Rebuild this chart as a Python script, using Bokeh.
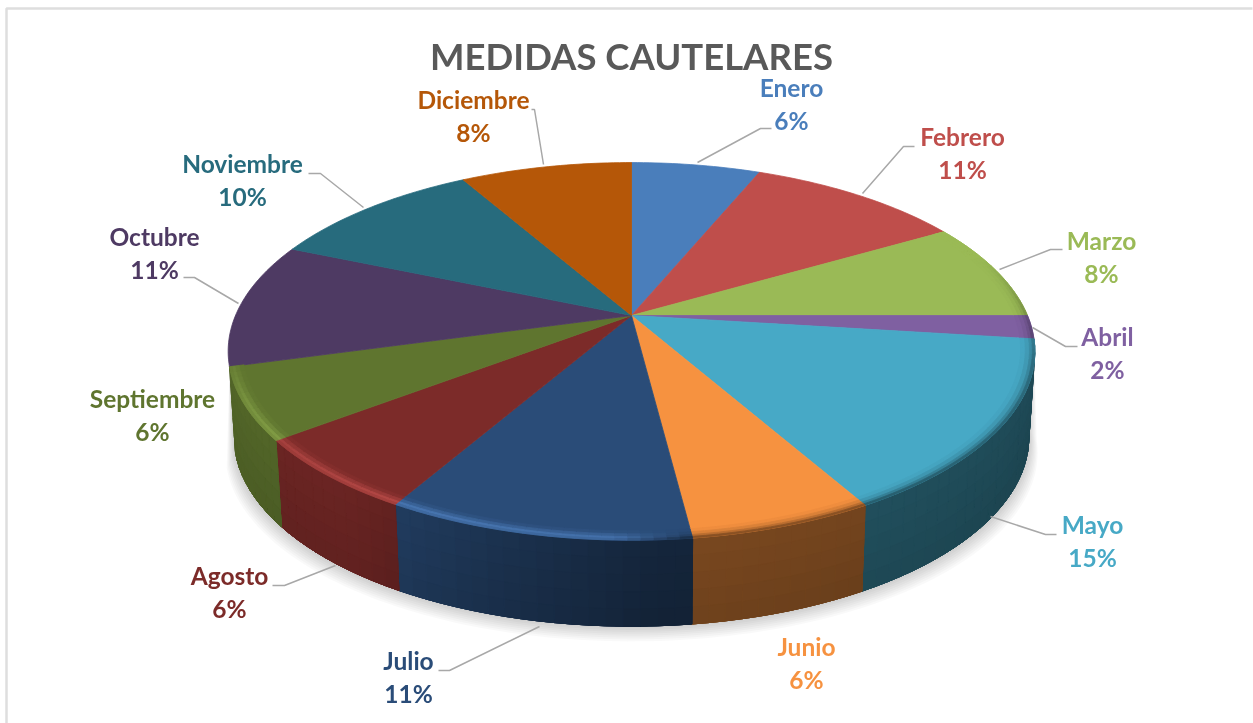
import numpy as np
from bokeh.embed import file_html
from bokeh.resources import INLINE
from bokeh.plotting import figure
from bokeh.models import Range1d, ColumnDataSource
from bokeh.core.properties import value

title_text = "MEDIDAS CAUTELARES"
months = ["Enero", "Febrero", "Marzo", "Abril", "Mayo", "Junio", "Julio", "Agosto",
          "Septiembre", "Octubre", "Noviembre", "Diciembre"]
percent_labels = [6, 11, 8, 2, 15, 6, 11, 6, 6, 11, 10, 8]
shares = [6.2, 10.4, 8.4, 2.0, 14.8, 6.2, 10.3, 6.3, 6.1, 10.7, 10.35, 8.25]
colors = ["#4a7ebb", "#bf4e4b", "#9aba56", "#7f60a1", "#47a9c6", "#f69240",
          "#2a4c78", "#7c2b29", "#5f752f", "#4e3a63", "#276b7d", "#b55708"]

# layout (page pixels)
label_x = [791, 962, 1101, 1107, 1092, 806, 408, 229, 152, 154, 242, 473]
label_y = [87, 136, 240, 336, 524, 646, 660, 575, 398, 236, 163, 99]
leaders = [[(697, 162), (760, 128), (771, 128)], [(862, 193), (903, 146), (914, 146)],
           [(999, 269), (1050, 249), (1062, 249)], [(1032, 327), (1065, 346), (1077, 346)],
           [(990, 516), (1045, 534), (1056, 534)], None,
           [(539, 626), (449, 670), (438, 670)], [(335, 565), (284, 585), (272, 585)], None,
           [(238, 303), (194, 277), (183, 277)], [(363, 207), (320, 173), (308, 173)],
           [(543, 164), (534, 109), (531, 109)]]
CX, CY, A, B, K = 631.0, 315.0, 396.0, 182.0, 0.19
WALL, XS = 86.0, 0.985


def top(th, r=1.0):
    u, v = r * np.sin(th), -r * np.cos(th)
    w = 1 - K * v
    return CX + A * u / w, CY + B * v / w


def wall(th, t):
    x, y = top(th)
    return CX + (x - CX) * (1 - (1 - XS) * t), y + WALL * t


def shade(col, f):
    rgb = [int(col[i:i + 2], 16) for i in (1, 3, 5)]
    if f <= 1:
        out = [c * f for c in rgb]
    else:
        out = [c * f + 45 * (f - 1) for c in rgb]
    return "#%02x%02x%02x" % tuple(int(min(255, max(0, c))) for c in out)


p = figure(width=1253, height=723, x_range=Range1d(0, 1253), y_range=Range1d(723, 0),
           output_backend="svg", toolbar_location=None, min_border=0,
           outline_line_color=None, background_fill_color="white")
p.axis.visible = False
p.grid.visible = False
p.styles = {"position": "fixed", "left": "0", "top": "0"}

# chart frame
p.line([1252, 6, 6], [8, 8, 723], line_color="#dedede", line_width=2.5)

edges = np.cumsum([0.0] + shares) / sum(shares) * 2 * np.pi
W0, W1 = edges[4], edges[9]  # the side wall runs from Mayo to the end of Septiembre

# soft shadow below the disc
fr = np.linspace(W0, W1, 120)
for k in range(1, 9):
    bx, by = wall(fr, 1.0)
    sx = CX + (bx - CX) * (1 + 0.0028 * k)
    sy = by + 1.9 * k
    tx, ty = top(fr)
    p.patch(np.r_[sx, tx[::-1]].tolist(), np.r_[sy, ty[::-1]].tolist(),
            fill_color="#000000", fill_alpha=0.022, line_color=None)

xs, ys, fc = [], [], []


def quad(x, y, c):
    xs.append(list(x))
    ys.append(list(y))
    fc.append(c)


def wall_factor(am):
    return float(np.interp(np.sin(am), [-1, -.6, -.3, .05, 1], [.88, .86, .68, .50, .44]))


# side wall: one solid piece per slice, then vertical bands with a top-to-bottom ramp
WT = np.linspace(0, 1, 6)
for i in range(4, 9):
    a0, a1 = edges[i], edges[i + 1]
    n = max(2, int((a1 - a0) / np.radians(2.0)))
    ang = np.linspace(a0, a1, n + 1)
    x0, y0 = wall(ang, 0.0)
    x1, y1 = wall(ang, 1.0)
    quad(np.r_[x0, x1[::-1]], np.r_[y0, y1[::-1]],
         shade(colors[i], wall_factor((a0 + a1) / 2) * 0.94))
    for j in range(n):
        am = (ang[j] + ang[j + 1]) / 2
        f0 = wall_factor(am)
        # each band is painted down to the bottom edge, so that rows overlap
        for k in range(len(WT) - 1):
            t0, tm = WT[k], (WT[k] + WT[k + 1]) / 2
            xa, ya = wall(ang[j], t0); xb, yb = wall(ang[j + 1], t0)
            xc, yc = wall(ang[j + 1], 1.0); xd, yd = wall(ang[j], 1.0)
            quad([xa, xb, xc, xd], [ya, yb, yc, yd], shade(colors[i], f0 * (1 - 0.09 * tm)))

# top face
for i in range(12):
    n = max(2, int((edges[i + 1] - edges[i]) / np.radians(1.0)))
    ang = np.linspace(edges[i], edges[i + 1], n + 1)
    x, y = top(ang)
    quad(np.r_[CX, x], np.r_[CY, y], colors[i])

# bevel along the rim of the top face, from the outer edge of Marzo round to Septiembre
RT = [0.966, 0.977, 0.987, 0.994, 1.0]
for i in range(2, 9):
    a0, a1 = edges[i], edges[i + 1]
    n = max(2, int((a1 - a0) / np.radians(1.5)))
    ang = np.linspace(a0, a1, n + 1)
    for j in range(n):
        am = (ang[j] + ang[j + 1]) / 2
        hl = float(np.interp(am, np.radians([172, 182, 205, 225, 245, 262]), [0, .3, .34, .28, .18, 0]))
        dk = float(np.interp(am, np.radians([70, 105, 150, 172, 182]), [0, .45, .55, .55, 0]))
        for k in range(4):
            x0, y0 = top(ang[j], RT[k]); x1, y1 = top(ang[j + 1], RT[k])
            x2, y2 = top(ang[j + 1], RT[k + 1]); x3, y3 = top(ang[j], RT[k + 1])
            c = colors[i]
            if hl > 0:
                c = shade(c, 1 + hl * [0.15, 0.55, 1.0, 0.75][k])
            if dk > 0:
                c = shade(c, 1 - dk * [0.05, 0.2, 0.45, 0.8][k])
            quad([x0, x1, x2, x3], [y0, y1, y2, y3], c)

src = ColumnDataSource(dict(xs=xs, ys=ys, fc=fc))
p.patches("xs", "ys", source=src, fill_color="fc", line_color="fc", line_width=0.8)

# leader lines
for seg in leaders:
    if seg:
        p.line([q[0] for q in seg], [q[1] for q in seg], line_color="#a8a8a8", line_width=1.5)

# texts
pct = [f"{v}%" for v in percent_labels]
lsrc = ColumnDataSource(dict(x=label_x, y=label_y, y2=[v + 32.5 for v in label_y],
                             name=months, pct=pct, c=colors))
for yc, tc in (("y", "name"), ("y2", "pct")):
    p.text("x", yc, text=tc, source=lsrc, text_color="c", text_align="center",
           text_baseline="middle", text_font=value("Lato"), text_font_style="bold",
           text_font_size="24.5px")
p.text([631], [55], text=[title_text], text_color="#595959", text_align="center",
       text_baseline="middle", text_font=value("Lato"), text_font_style="bold",
       text_font_size="36.5px")

open("out.html", "w").write(file_html(p, INLINE))
